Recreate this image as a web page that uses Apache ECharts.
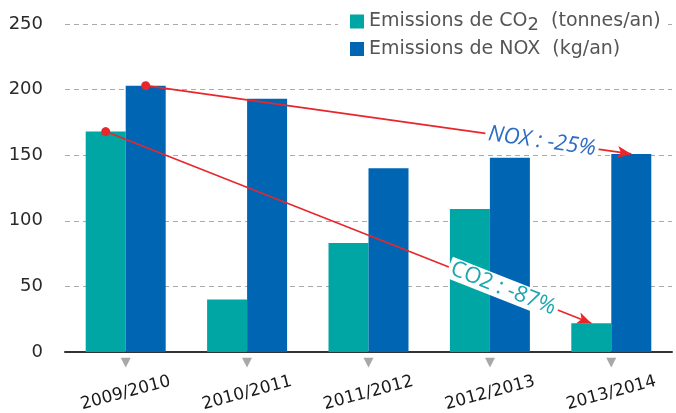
<!DOCTYPE html>
<html>
<head>
<meta charset="utf-8">
<script src="https://cdn.jsdelivr.net/npm/echarts@6/dist/echarts.min.js"></script>
<style>
  html, body { margin: 0; padding: 0; background: #fff; }
  #chart { width: 676px; height: 413px; }
</style>
</head>
<body>
<div id="chart"></div>
<script>
const categories = ['2009/2010', '2010/2011', '2011/2012', '2012/2013', '2013/2014'];
const co2Values = [168, 40, 83, 109, 22];
const noxValues = [203, 193, 140, 148, 151];
const yTicks = { min: 0, max: 250, interval: 50 };
const co2Name = 'Emissions de CO2  (tonnes/an)';
const noxName = 'Emissions de NOX  (kg/an)';
const co2Arrow = { from: 0, to: 4, label: 'CO2 : -87%' };
const noxArrow = { from: 0, to: 4, label: 'NOX : -25%' };

const TEAL = '#00a6a3';
const BLUE = '#0066b3';
const RED = '#e8262c';

function arrowLine(values, arrow, labelColor, italic, dist) {
  return {
    silent: true,
    animation: false,
    symbol: ['circle', 'arrow'],
    symbolSize: [9, 14],
    itemStyle: { color: RED, borderColor: '#fff', borderWidth: 1.5 },
    lineStyle: { color: RED, width: 1.6, type: 'solid' },
    label: {
      show: true,
      position: 'insideEnd',
      distance: dist,
      formatter: arrow.label,
      color: labelColor,
      fontFamily: 'Open Sans',
      fontStyle: italic ? 'italic' : 'normal',
      fontSize: 22,
      backgroundColor: '#fff',
      padding: [0, 3, 0, 3]
    },
    emphasis: { disabled: true },
    data: [[
      { coord: [arrow.from, values[arrow.from]] },
      { coord: [arrow.to, values[arrow.to]] }
    ]]
  };
}

const chart = echarts.init(document.getElementById('chart'), null, { renderer: 'canvas' });
chart.setOption({
  animation: false,
  backgroundColor: '#fff',
  grid: { left: 65, right: 4, top: 24, bottom: 61, containLabel: false, outerBoundsMode: 'none' },
  legend: {
    orient: 'vertical',
    left: 338,
    top: 8,
    padding: [4, 4, 6, 12],
    backgroundColor: '#fff',
    itemWidth: 14,
    itemHeight: 14,
    itemGap: 5,
    icon: 'rect',
    selectedMode: false,
    data: [co2Name, noxName],
    formatter: function (name) {
      return name === co2Name ? 'Emissions de CO{s|2}  (tonnes/an)' : name;
    },
    textStyle: {
      color: '#555',
      fontFamily: 'DejaVu Sans',
      fontSize: 19,
      rich: {
        s: { color: '#555', fontFamily: 'DejaVu Sans', fontSize: 18, padding: [8, 0, 0, 0] }
      }
    }
  },
  xAxis: [
    {
      type: 'category',
      data: categories,
      position: 'bottom',
      axisLine: { show: true, lineStyle: { color: '#333', width: 2 } },
      axisTick: { show: false },
      axisLabel: {
        interval: 0,
        rotate: 15,
        align: 'center',
        verticalAlign: 'middle',
        margin: 41,
        color: '#1a1a1a',
        fontFamily: 'DejaVu Sans',
        fontSize: 17
      },
      splitLine: { show: false }
    },
    {
      type: 'category',
      data: categories,
      position: 'bottom',
      gridIndex: 0,
      axisLine: { show: false },
      axisTick: { show: false },
      axisLabel: {
        interval: 0,
        margin: 4,
        formatter: function () { return '▼'; },
        color: '#a8a8a8',
        fontFamily: 'DejaVu Sans',
        fontSize: 13
      },
      splitLine: { show: false }
    }
  ],
  yAxis: {
    type: 'value',
    min: yTicks.min,
    max: yTicks.max,
    interval: yTicks.interval,
    axisLine: { show: false },
    axisTick: { show: false },
    axisLabel: {
      margin: 22,
      color: '#2a2a2a',
      fontFamily: 'DejaVu Sans',
      fontSize: 18,
      verticalAlign: 'middle',
      padding: [0, 0, 13, 0]
    },
    splitLine: { show: true, lineStyle: { color: '#aaa', type: [5, 4], width: 1 } }
  },
  series: [
    {
      name: co2Name,
      type: 'bar',
      data: co2Values,
      barWidth: 40,
      barGap: '0%',
      itemStyle: { color: TEAL },
      markLine: arrowLine(co2Values, co2Arrow, '#1aa6ae', false, 36)
    },
    {
      name: noxName,
      type: 'bar',
      data: noxValues,
      barWidth: 40,
      barGap: '0%',
      itemStyle: { color: BLUE },
      markLine: arrowLine(noxValues, noxArrow, '#2c6cc4', true, 33)
    }
  ]
});
</script>
</body>
</html>
